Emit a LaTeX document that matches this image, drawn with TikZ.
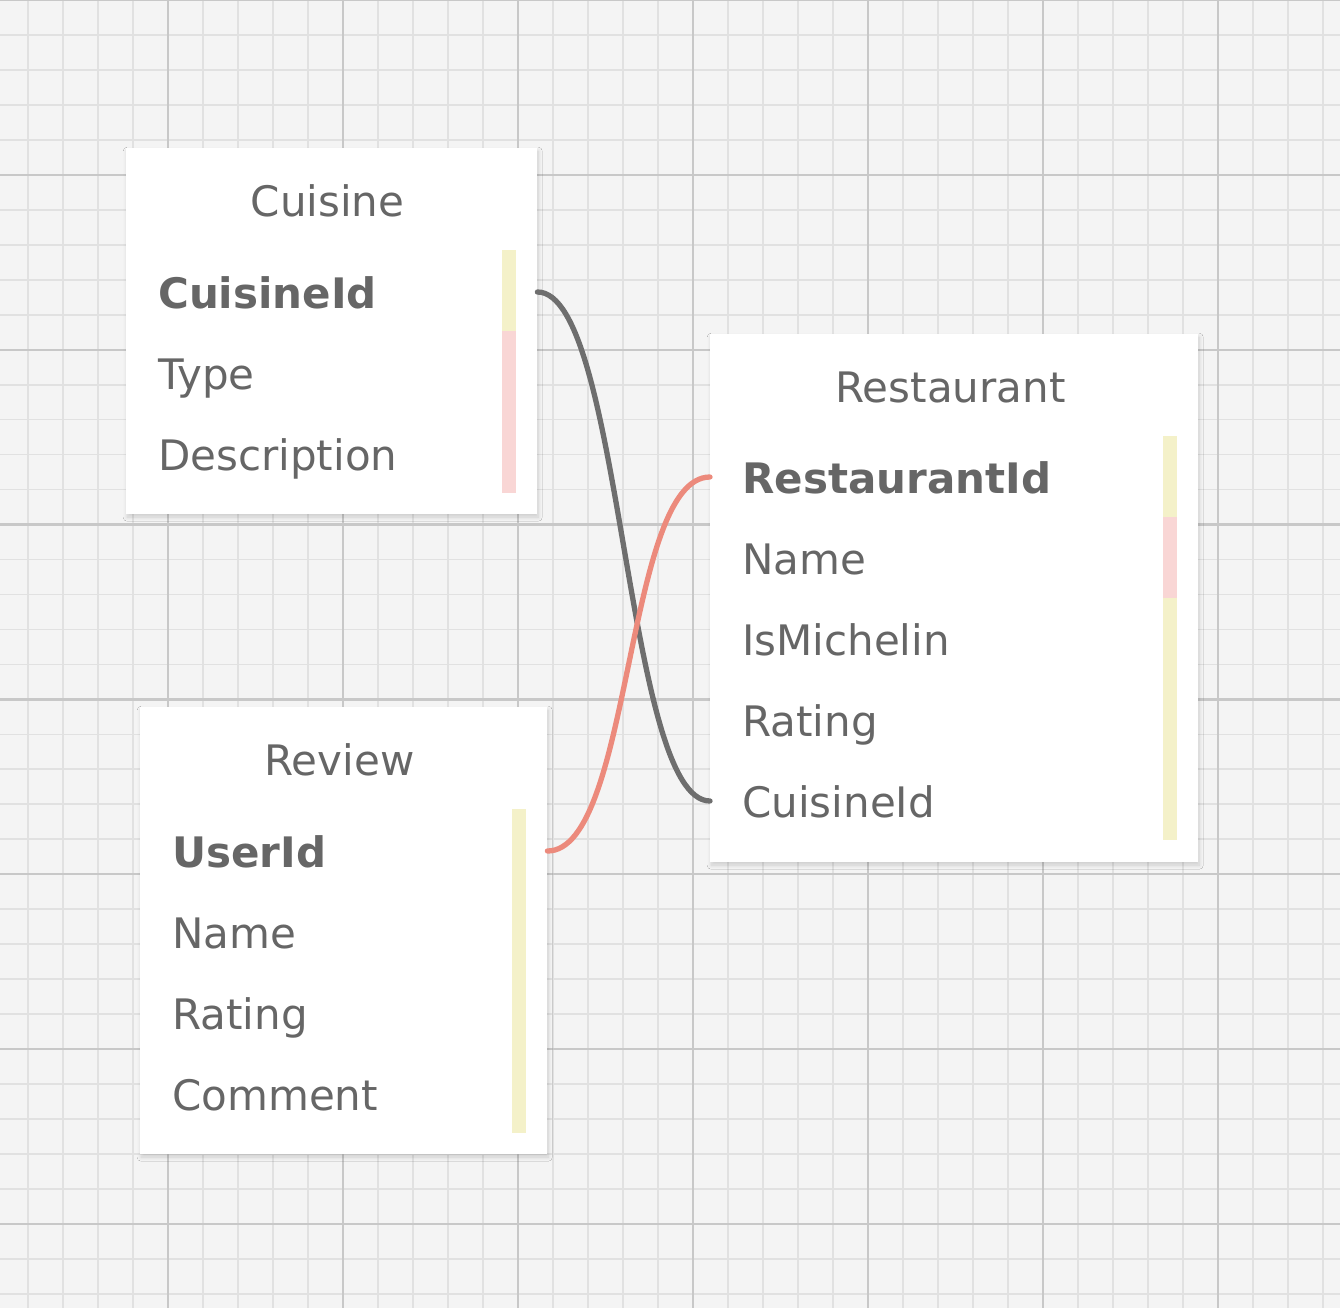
\documentclass[tikz,border=0pt]{standalone}
\usepackage{fontspec}
\setmainfont{DejaVu Sans}
\usetikzlibrary{shadows.blur}
\definecolor{bgc}{HTML}{F4F4F4}
\definecolor{minorc}{HTML}{E1E1E1}
\definecolor{majorc}{HTML}{C8C8C8}
\definecolor{txtc}{HTML}{666666}
\definecolor{barY}{HTML}{F4F1C9}
\definecolor{barP}{HTML}{F9D6D5}
\definecolor{linkG}{HTML}{6E6E6E}
\definecolor{linkR}{HTML}{EC8A7C}
\tikzset{
  minorline/.style={draw=minorc, line width=1.7pt},
  majorline/.style={draw=majorc, line width=2.3pt},
  tablebox/.style={fill=white, draw=none, anchor=north west, inner sep=0pt,
    blur shadow={shadow xshift=1pt, shadow yshift=-3pt, shadow blur radius=4pt, shadow blur steps=8, shadow opacity=16}},
  titletext/.style={anchor=base, inner sep=0pt, text=txtc, font=\fontsize{42}{50}\selectfont},
  fieldtext/.style={anchor=base west, inner sep=0pt, text=txtc, font=\fontsize{42}{50}\selectfont},
  keytext/.style={fieldtext, font=\fontsize{42}{50}\selectfont\bfseries},
  linkline/.style={line width=5.3pt, line cap=round},
}
\begin{document}
\begin{tikzpicture}[x=1pt, y=-1pt]
\useasboundingbox (0,0) rectangle (1340,1308);
% background grid
\fill[bgc] (0,0) rectangle (1340,1308);
\foreach \k in {0,...,37} {
  \draw[minorline] ({28+35*\k},0) -- ({28+35*\k},1308);
  \draw[minorline] (0,{34.97*\k}) -- (1340,{34.97*\k});
}
\foreach \k in {0,...,6} {
  \draw[majorline] ({168+175*\k},0) -- ({168+175*\k},1308);
}
\foreach \k in {0,...,7} {
  \draw[majorline] (0,{174.86*\k}) -- (1340,{174.86*\k});
}

% Cuisine table
\node[tablebox, minimum width=411pt, minimum height=366pt] (cuisine) at (126,148) {};
\fill[barY] (502,250) rectangle (516,331);
\fill[barP] (502,331) rectangle (516,493);
\node[titletext] (cuisineT) at (327.5,216) {Cuisine};
\node[keytext] (cuisineId) at (158,308) {CuisineId};
\node[fieldtext] (cuisineType) at (158,389) {Type};
\node[fieldtext] (cuisineDesc) at (158,470) {Description};

% Restaurant table
\node[tablebox, minimum width=488pt, minimum height=528pt] (restaurant) at (710,334) {};
\fill[barY] (1163,436) rectangle (1177,517);
\fill[barP] (1163,517) rectangle (1177,598);
\fill[barY] (1163,598) rectangle (1177,840);
\node[titletext] (restaurantT) at (950.5,402) {Restaurant};
\node[keytext] (restId) at (742,493) {RestaurantId};
\node[fieldtext] (restName) at (742,574) {Name};
\node[fieldtext] (restMich) at (742,655) {IsMichelin};
\node[fieldtext] (restRating) at (742,736) {Rating};
\node[fieldtext] (restCuisine) at (742,817) {CuisineId};

% Review table
\node[tablebox, minimum width=407pt, minimum height=447pt] (review) at (140,707) {};
\fill[barY] (512,809) rectangle (526,1133);
\node[titletext] (reviewT) at (339.5,775) {Review};
\node[keytext] (revUser) at (172,867) {UserId};
\node[fieldtext] (revName) at (172,948) {Name};
\node[fieldtext] (revRating) at (172,1029) {Rating};
\node[fieldtext] (revComment) at (172,1110) {Comment};

% connection points
\path (cuisineId.base) ++(0,-16) coordinate (cidY);
\path (restCuisine.base) ++(0,-16) coordinate (rcY);
\path (revUser.base) ++(0,-16) coordinate (ruY);
\path (restId.base) ++(0,-16) coordinate (riY);
\coordinate (gStart) at (cuisine.east |- cidY);
\coordinate (gEnd) at (restaurant.west |- rcY);
\coordinate (rStart) at (review.east |- ruY);
\coordinate (rEnd) at (restaurant.west |- riY);

% connectors
\draw[linkline, draw=linkG] (gStart) .. controls +(85,0) and +(-85,0) .. (gEnd);
\draw[linkline, draw=linkR] (rStart) .. controls +(85,0) and +(-85,0) .. (rEnd);
\end{tikzpicture}
\end{document}
